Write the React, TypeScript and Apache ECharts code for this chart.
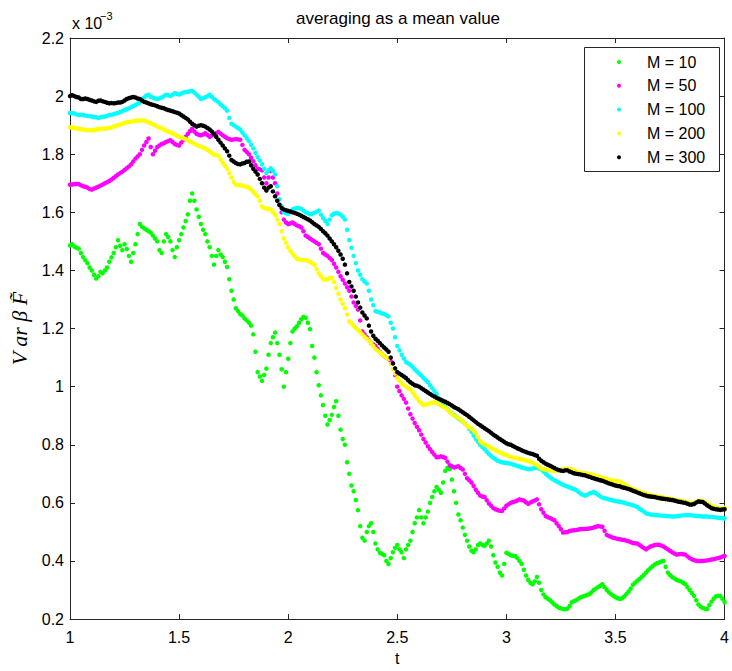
import React, { useEffect, useRef } from "react";
import * as echarts from "echarts";

const seriesNames = ["M = 10", "M = 50", "M = 100", "M = 200", "M = 300"];
const seriesColors = ["#00ff00", "#ff00ff", "#00ffff", "#ffff00", "#000000"];
const T_START = 1;
const T_STEP = 0.01;
const xTicks = { min: 1, max: 4, interval: 0.5 };
const yTicks = { min: 0.2, max: 2.2, interval: 0.2 };

// values in units of 1e-3, sampled at t = 1.00, 1.01, ... 4.00 (20 per row)
const m10 = [
  1.486, 1.49, 1.482, 1.478, 1.475, 1.46, 1.446, 1.435, 1.425, 1.41, 1.40, 1.385, 1.372, 1.38, 1.395, 1.39, 1.40, 1.41, 1.43, 1.445,
  1.46, 1.48, 1.504, 1.485, 1.47, 1.49, 1.474, 1.45, 1.43, 1.46, 1.49, 1.525, 1.56, 1.55, 1.545, 1.54, 1.535, 1.53, 1.52, 1.51,
  1.50, 1.47, 1.46, 1.50, 1.525, 1.515, 1.50, 1.47, 1.446, 1.48, 1.504, 1.525, 1.548, 1.57, 1.593, 1.64, 1.665, 1.64, 1.61, 1.585,
  1.56, 1.54, 1.525, 1.50, 1.48, 1.45, 1.42, 1.45, 1.47, 1.455, 1.446, 1.43, 1.412, 1.37, 1.33, 1.30, 1.27, 1.26, 1.25, 1.245,
  1.235, 1.228, 1.22, 1.21, 1.18, 1.12, 1.05, 1.035, 1.02, 1.04, 1.062, 1.11, 1.15, 1.17, 1.186, 1.15, 1.11, 1.06, 1.0, 1.05,
  1.096, 1.15, 1.19, 1.20, 1.208, 1.22, 1.232, 1.24, 1.237, 1.22, 1.198, 1.14, 1.10, 1.05, 1.005, 0.97, 0.937, 0.90, 0.87, 0.885,
  0.903, 0.93, 0.95, 0.90, 0.852, 0.82, 0.80, 0.74, 0.70, 0.66, 0.64, 0.61, 0.575, 0.52, 0.48, 0.47, 0.50, 0.52, 0.53, 0.50,
  0.46, 0.44, 0.428, 0.425, 0.42, 0.40, 0.39, 0.41, 0.43, 0.445, 0.455, 0.44, 0.43, 0.41, 0.44, 0.455, 0.47, 0.50, 0.53, 0.55,
  0.575, 0.55, 0.53, 0.55, 0.57, 0.60, 0.62, 0.64, 0.655, 0.645, 0.635, 0.67, 0.71, 0.72, 0.716, 0.68, 0.64, 0.60, 0.56, 0.54,
  0.515, 0.49, 0.47, 0.45, 0.435, 0.43, 0.44, 0.455, 0.46, 0.455, 0.452, 0.46, 0.47, 0.45, 0.42, 0.395, 0.38, 0.36, 0.35, 0.39,
  0.428, 0.425, 0.42, 0.418, 0.417, 0.41, 0.40, 0.39, 0.37, 0.35, 0.335, 0.325, 0.32, 0.33, 0.345, 0.325, 0.30, 0.285, 0.275, 0.27,
  0.265, 0.258, 0.25, 0.245, 0.24, 0.237, 0.235, 0.234, 0.236, 0.245, 0.258, 0.262, 0.265, 0.27, 0.275, 0.278, 0.28, 0.283, 0.286, 0.292,
  0.30, 0.305, 0.31, 0.315, 0.32, 0.31, 0.30, 0.292, 0.286, 0.28, 0.275, 0.272, 0.269, 0.272, 0.278, 0.286, 0.295, 0.305, 0.318, 0.325,
  0.332, 0.338, 0.345, 0.352, 0.36, 0.368, 0.375, 0.382, 0.388, 0.392, 0.395, 0.398, 0.40, 0.38, 0.36, 0.352, 0.345, 0.34, 0.335, 0.332,
  0.33, 0.325, 0.32, 0.31, 0.30, 0.29, 0.28, 0.265, 0.25, 0.243, 0.238, 0.236, 0.235, 0.248, 0.26, 0.27, 0.278, 0.28, 0.28, 0.27,
  0.258,
];

const m50 = [
  1.695, 1.696, 1.697, 1.698, 1.697, 1.693, 1.69, 1.688, 1.685, 1.68, 1.678, 1.682, 1.685, 1.688, 1.692, 1.696, 1.70, 1.704, 1.708, 1.713,
  1.718, 1.724, 1.73, 1.735, 1.74, 1.746, 1.752, 1.758, 1.765, 1.775, 1.785, 1.792, 1.80, 1.815, 1.83, 1.842, 1.854, 1.825, 1.80, 1.812,
  1.825, 1.83, 1.835, 1.838, 1.842, 1.845, 1.848, 1.842, 1.835, 1.832, 1.83, 1.84, 1.85, 1.86, 1.87, 1.88, 1.888, 1.878, 1.87, 1.867,
  1.865, 1.868, 1.872, 1.866, 1.86, 1.864, 1.868, 1.872, 1.877, 1.871, 1.865, 1.86, 1.855, 1.852, 1.85, 1.851, 1.852, 1.851, 1.85, 1.832,
  1.815, 1.808, 1.80, 1.788, 1.776, 1.762, 1.75, 1.748, 1.745, 1.72, 1.70, 1.72, 1.742, 1.72, 1.70, 1.665, 1.627, 1.60, 1.575, 1.565,
  1.56, 1.562, 1.565, 1.56, 1.555, 1.552, 1.548, 1.535, 1.52, 1.515, 1.51, 1.505, 1.50, 1.495, 1.49, 1.475, 1.46, 1.455, 1.45, 1.443,
  1.436, 1.423, 1.41, 1.395, 1.38, 1.368, 1.355, 1.342, 1.33, 1.31, 1.29, 1.278, 1.265, 1.228, 1.19, 1.18, 1.17, 1.16, 1.15, 1.145,
  1.14, 1.13, 1.12, 1.112, 1.105, 1.10, 1.095, 1.088, 1.08, 1.04, 1.00, 0.985, 0.97, 0.958, 0.945, 0.925, 0.905, 0.89, 0.875, 0.862,
  0.85, 0.835, 0.82, 0.808, 0.795, 0.785, 0.775, 0.766, 0.757, 0.758, 0.76, 0.758, 0.755, 0.742, 0.73, 0.726, 0.722, 0.724, 0.726, 0.72,
  0.715, 0.70, 0.685, 0.678, 0.67, 0.658, 0.645, 0.635, 0.625, 0.622, 0.62, 0.609, 0.598, 0.59, 0.582, 0.578, 0.575, 0.573, 0.572, 0.581,
  0.59, 0.595, 0.60, 0.603, 0.605, 0.608, 0.612, 0.61, 0.608, 0.602, 0.597, 0.601, 0.605, 0.608, 0.612, 0.595, 0.578, 0.566, 0.555, 0.551,
  0.548, 0.544, 0.54, 0.53, 0.52, 0.509, 0.498, 0.499, 0.50, 0.503, 0.505, 0.506, 0.507, 0.508, 0.51, 0.51, 0.51, 0.511, 0.512, 0.513,
  0.515, 0.518, 0.52, 0.519, 0.518, 0.504, 0.49, 0.486, 0.483, 0.48, 0.478, 0.476, 0.475, 0.473, 0.472, 0.47, 0.468, 0.465, 0.462, 0.461,
  0.46, 0.455, 0.45, 0.445, 0.44, 0.445, 0.45, 0.452, 0.455, 0.456, 0.456, 0.453, 0.45, 0.445, 0.44, 0.435, 0.43, 0.426, 0.422, 0.423,
  0.424, 0.423, 0.422, 0.416, 0.41, 0.406, 0.403, 0.401, 0.40, 0.40, 0.40, 0.401, 0.402, 0.403, 0.405, 0.406, 0.408, 0.41, 0.412, 0.415,
  0.417,
];

const m100 = [
  1.942, 1.941, 1.94, 1.937, 1.935, 1.936, 1.935, 1.933, 1.932, 1.931, 1.93, 1.928, 1.927, 1.925, 1.927, 1.929, 1.93, 1.932, 1.935, 1.936,
  1.938, 1.94, 1.942, 1.945, 1.948, 1.952, 1.955, 1.958, 1.962, 1.966, 1.97, 1.974, 1.978, 1.99, 1.995, 2.002, 2.005, 1.998, 1.995, 1.992,
  1.99, 1.992, 1.995, 2.0, 2.005, 2.003, 2.00, 2.005, 2.01, 2.008, 2.005, 2.009, 2.012, 2.014, 2.015, 2.017, 2.018, 2.012, 2.005, 1.998,
  1.99, 1.993, 1.996, 2.0, 2.005, 1.998, 1.99, 1.985, 1.98, 1.972, 1.965, 1.958, 1.95, 1.925, 1.905, 1.9, 1.895, 1.89, 1.885, 1.875,
  1.865, 1.855, 1.845, 1.832, 1.82, 1.805, 1.79, 1.778, 1.765, 1.75, 1.735, 1.745, 1.752, 1.742, 1.73, 1.69, 1.645, 1.62, 1.60, 1.597,
  1.595, 1.602, 1.61, 1.613, 1.615, 1.614, 1.612, 1.606, 1.60, 1.597, 1.593, 1.595, 1.598, 1.602, 1.606, 1.592, 1.58, 1.57, 1.56, 1.575,
  1.59, 1.595, 1.598, 1.596, 1.592, 1.585, 1.575, 1.54, 1.505, 1.478, 1.45, 1.425, 1.40, 1.385, 1.37, 1.362, 1.355, 1.33, 1.30, 1.28,
  1.26, 1.258, 1.255, 1.252, 1.25, 1.246, 1.242, 1.22, 1.20, 1.17, 1.14, 1.125, 1.11, 1.097, 1.085, 1.08, 1.075, 1.068, 1.06, 1.052,
  1.045, 1.038, 1.03, 1.023, 1.016, 1.005, 0.995, 0.985, 0.975, 0.96, 0.945, 0.937, 0.93, 0.922, 0.915, 0.909, 0.903, 0.897, 0.89, 0.885,
  0.88, 0.872, 0.865, 0.855, 0.845, 0.832, 0.82, 0.81, 0.80, 0.792, 0.785, 0.776, 0.768, 0.761, 0.755, 0.75, 0.745, 0.742, 0.74, 0.738,
  0.737, 0.736, 0.735, 0.732, 0.73, 0.727, 0.725, 0.722, 0.72, 0.718, 0.716, 0.717, 0.718, 0.72, 0.722, 0.718, 0.715, 0.708, 0.70, 0.694,
  0.688, 0.683, 0.678, 0.674, 0.67, 0.666, 0.662, 0.659, 0.656, 0.653, 0.65, 0.647, 0.644, 0.638, 0.632, 0.628, 0.625, 0.628, 0.632, 0.635,
  0.638, 0.633, 0.628, 0.623, 0.618, 0.616, 0.614, 0.612, 0.61, 0.608, 0.606, 0.605, 0.604, 0.602, 0.60, 0.598, 0.596, 0.594, 0.592, 0.589,
  0.586, 0.58, 0.575, 0.57, 0.564, 0.562, 0.56, 0.559, 0.558, 0.558, 0.557, 0.556, 0.556, 0.555, 0.555, 0.554, 0.553, 0.553, 0.554, 0.555,
  0.556, 0.557, 0.558, 0.558, 0.558, 0.557, 0.556, 0.555, 0.555, 0.554, 0.553, 0.553, 0.553, 0.552, 0.552, 0.551, 0.55, 0.549, 0.548, 0.547,
  0.546,
];

const m200 = [
  1.893, 1.892, 1.89, 1.889, 1.888, 1.886, 1.885, 1.884, 1.883, 1.882, 1.882, 1.883, 1.885, 1.887, 1.888, 1.888, 1.888, 1.889, 1.89, 1.892,
  1.895, 1.898, 1.90, 1.902, 1.905, 1.908, 1.91, 1.911, 1.912, 1.914, 1.915, 1.916, 1.916, 1.916, 1.915, 1.913, 1.91, 1.907, 1.903, 1.899,
  1.895, 1.892, 1.89, 1.885, 1.88, 1.878, 1.875, 1.872, 1.868, 1.864, 1.86, 1.858, 1.855, 1.852, 1.848, 1.844, 1.84, 1.836, 1.832, 1.829,
  1.826, 1.823, 1.82, 1.815, 1.81, 1.804, 1.798, 1.797, 1.795, 1.782, 1.77, 1.76, 1.75, 1.735, 1.72, 1.705, 1.695, 1.694, 1.693, 1.692,
  1.69, 1.688, 1.685, 1.678, 1.67, 1.662, 1.655, 1.64, 1.62, 1.615, 1.612, 1.611, 1.61, 1.60, 1.59, 1.575, 1.56, 1.535, 1.51, 1.495,
  1.48, 1.468, 1.457, 1.448, 1.44, 1.438, 1.436, 1.436, 1.436, 1.433, 1.43, 1.425, 1.42, 1.405, 1.39, 1.38, 1.37, 1.368, 1.37, 1.373,
  1.375, 1.36, 1.34, 1.32, 1.30, 1.285, 1.27, 1.248, 1.225, 1.218, 1.21, 1.202, 1.195, 1.188, 1.18, 1.172, 1.165, 1.158, 1.15, 1.14,
  1.13, 1.124, 1.118, 1.112, 1.105, 1.10, 1.096, 1.078, 1.06, 1.045, 1.03, 1.02, 1.01, 1.005, 1.00, 0.995, 0.99, 0.98, 0.97, 0.96,
  0.95, 0.943, 0.937, 0.938, 0.94, 0.943, 0.945, 0.945, 0.945, 0.94, 0.935, 0.931, 0.927, 0.921, 0.915, 0.907, 0.90, 0.897, 0.893, 0.887,
  0.88, 0.872, 0.865, 0.86, 0.855, 0.848, 0.84, 0.826, 0.812, 0.806, 0.80, 0.798, 0.795, 0.79, 0.785, 0.782, 0.778, 0.774, 0.77, 0.767,
  0.765, 0.761, 0.758, 0.756, 0.755, 0.753, 0.752, 0.75, 0.748, 0.746, 0.744, 0.741, 0.738, 0.734, 0.73, 0.724, 0.718, 0.716, 0.714, 0.713,
  0.712, 0.711, 0.71, 0.711, 0.712, 0.714, 0.716, 0.717, 0.718, 0.717, 0.716, 0.712, 0.708, 0.705, 0.703, 0.703, 0.703, 0.701, 0.70, 0.698,
  0.696, 0.693, 0.69, 0.688, 0.686, 0.684, 0.682, 0.68, 0.677, 0.676, 0.676, 0.675, 0.673, 0.669, 0.665, 0.66, 0.655, 0.651, 0.648, 0.645,
  0.642, 0.639, 0.636, 0.633, 0.631, 0.629, 0.627, 0.625, 0.624, 0.622, 0.621, 0.62, 0.618, 0.616, 0.615, 0.614, 0.613, 0.611, 0.61, 0.608,
  0.607, 0.605, 0.604, 0.602, 0.60, 0.60, 0.60, 0.603, 0.607, 0.607, 0.606, 0.602, 0.598, 0.594, 0.59, 0.587, 0.584, 0.582, 0.58, 0.581,
  0.583,
];

const m300 = [
  2.00, 2.003, 2.00, 1.997, 1.995, 1.99, 1.99, 1.992, 1.99, 1.987, 1.985, 1.982, 1.98, 1.984, 1.985, 1.982, 1.98, 1.977, 1.975, 1.976,
  1.975, 1.976, 1.978, 1.978, 1.98, 1.985, 1.99, 1.993, 1.995, 1.997, 1.995, 1.992, 1.99, 1.985, 1.98, 1.978, 1.975, 1.972, 1.97, 1.968,
  1.965, 1.962, 1.96, 1.958, 1.955, 1.952, 1.95, 1.948, 1.945, 1.943, 1.94, 1.935, 1.93, 1.925, 1.92, 1.912, 1.905, 1.90, 1.895, 1.898,
  1.90, 1.898, 1.895, 1.89, 1.885, 1.878, 1.87, 1.86, 1.85, 1.84, 1.83, 1.82, 1.81, 1.795, 1.78, 1.775, 1.77, 1.766, 1.765, 1.768,
  1.77, 1.774, 1.775, 1.762, 1.75, 1.74, 1.73, 1.715, 1.70, 1.685, 1.675, 1.685, 1.69, 1.672, 1.655, 1.64, 1.625, 1.615, 1.61, 1.607,
  1.605, 1.603, 1.60, 1.598, 1.595, 1.592, 1.588, 1.584, 1.58, 1.576, 1.572, 1.566, 1.56, 1.555, 1.55, 1.543, 1.535, 1.528, 1.52, 1.51,
  1.50, 1.49, 1.48, 1.468, 1.455, 1.44, 1.42, 1.39, 1.36, 1.345, 1.33, 1.31, 1.29, 1.272, 1.255, 1.245, 1.235, 1.21, 1.19, 1.175,
  1.165, 1.158, 1.15, 1.142, 1.135, 1.128, 1.12, 1.10, 1.08, 1.063, 1.05, 1.045, 1.04, 1.035, 1.03, 1.022, 1.015, 1.01, 1.005, 1.003,
  1.0, 0.995, 0.99, 0.985, 0.98, 0.975, 0.97, 0.966, 0.962, 0.958, 0.955, 0.951, 0.948, 0.944, 0.94, 0.935, 0.93, 0.926, 0.922, 0.917,
  0.912, 0.907, 0.902, 0.896, 0.89, 0.884, 0.878, 0.872, 0.867, 0.862, 0.857, 0.852, 0.847, 0.841, 0.835, 0.83, 0.825, 0.82, 0.815, 0.81,
  0.805, 0.802, 0.80, 0.796, 0.792, 0.788, 0.785, 0.781, 0.778, 0.775, 0.772, 0.77, 0.768, 0.765, 0.762, 0.752, 0.745, 0.74, 0.735, 0.731,
  0.728, 0.724, 0.72, 0.716, 0.713, 0.711, 0.71, 0.712, 0.712, 0.708, 0.705, 0.702, 0.70, 0.699, 0.698, 0.696, 0.695, 0.692, 0.69, 0.687,
  0.685, 0.682, 0.68, 0.678, 0.676, 0.673, 0.67, 0.667, 0.665, 0.662, 0.66, 0.658, 0.657, 0.654, 0.652, 0.65, 0.648, 0.645, 0.642, 0.639,
  0.636, 0.633, 0.63, 0.627, 0.625, 0.623, 0.622, 0.621, 0.62, 0.618, 0.617, 0.615, 0.614, 0.613, 0.612, 0.611, 0.61, 0.608, 0.606, 0.604,
  0.603, 0.601, 0.60, 0.597, 0.594, 0.594, 0.596, 0.601, 0.605, 0.604, 0.603, 0.598, 0.592, 0.587, 0.582, 0.58, 0.578, 0.577, 0.576, 0.577,
  0.578,
];

const seriesValues = [m10, m50, m100, m200, m300];

const FONT = "'Liberation Sans', Arial, Helvetica, sans-serif";
const AXIS_COLOR = "#262626";

export default function App() {
  const ref = useRef<HTMLDivElement>(null);

  useEffect(() => {
    if (!ref.current) return;
    const chart = echarts.init(ref.current, null, { renderer: "svg" });
    const toPoints = (vals: number[]) =>
      vals.map((v, i) => [Math.round((T_START + i * T_STEP) * 100) / 100, v]);

    const axisLine = { show: true, onZero: false, lineStyle: { color: AXIS_COLOR, width: 1 } };
    const tick = { show: true, inside: true, length: 5, lineStyle: { color: AXIS_COLOR, width: 1 } };
    const labelFmt = (v: number) => String(Math.round(v * 10) / 10);

    chart.setOption({
      animation: false,
      backgroundColor: "#ffffff",
      grid: { left: 70, right: 6, top: 38, bottom: 44, containLabel: false },
      xAxis: [
        {
          type: "value",
          position: "bottom",
          ...xTicks,
          axisLine,
          axisTick: tick,
          splitLine: { show: false },
          axisLabel: { fontSize: 16, color: "#000", fontFamily: FONT, margin: 10, formatter: labelFmt },
          name: "t",
          nameLocation: "middle",
          nameGap: 28,
          nameTextStyle: { fontSize: 16, color: "#000", fontFamily: FONT },
        },
        {
          type: "value",
          position: "top",
          ...xTicks,
          axisLine,
          axisTick: tick,
          splitLine: { show: false },
          axisLabel: { show: false },
        },
      ],
      yAxis: [
        {
          type: "value",
          position: "left",
          ...yTicks,
          axisLine,
          axisTick: tick,
          splitLine: { show: false },
          axisLabel: { fontSize: 16, color: "#000", fontFamily: FONT, margin: 6, formatter: labelFmt },
          name: "V ar β F\u0303",
          nameLocation: "middle",
          nameRotate: 90,
          nameGap: 36,
          nameTextStyle: {
            fontSize: 22,
            fontStyle: "italic",
            color: "#000",
            fontFamily: "'Liberation Serif', 'DejaVu Serif', serif",
          },
        },
        {
          type: "value",
          position: "right",
          ...yTicks,
          axisLine,
          axisTick: tick,
          splitLine: { show: false },
          axisLabel: { show: false },
        },
      ],
      legend: {
        orient: "vertical",
        left: 617,
        top: 54,
        padding: 0,
        itemWidth: 8,
        itemHeight: 4,
        itemGap: 7.8,
        icon: "circle",
        z: 20,
        data: seriesNames,
        textStyle: { fontSize: 16, lineHeight: 16, color: "#000", fontFamily: FONT, padding: [0, 0, 0, 19] },
      },
      graphic: [
        {
          type: "rect",
          z: 10,
          shape: { x: 584.5, y: 47.5, width: 135, height: 124 },
          style: { fill: "#ffffff", stroke: AXIS_COLOR, lineWidth: 1 },
        },
        {
          type: "text",
          z: 10,
          x: 398,
          y: 18.5,
          style: {
            text: "averaging as a mean value",
            fontSize: 17,
            fontFamily: FONT,
            fill: "#000",
            textAlign: "center",
            textVerticalAlign: "middle",
          },
        },
        {
          type: "text",
          z: 10,
          x: 72,
          y: 23.5,
          style: {
            text: "x 10",
            fontSize: 16,
            fontFamily: FONT,
            fill: "#000",
            textAlign: "left",
            textVerticalAlign: "middle",
          },
        },
        {
          type: "text",
          z: 10,
          x: 100,
          y: 15.5,
          style: {
            text: "\u22123",
            fontSize: 11,
            fontFamily: FONT,
            fill: "#000",
            textAlign: "left",
            textVerticalAlign: "middle",
          },
        },
      ],
      series: seriesNames.map((name, k) => ({
        name,
        type: "scatter",
        xAxisIndex: 0,
        yAxisIndex: 0,
        symbol: "circle",
        symbolSize: 4.5,
        itemStyle: { color: seriesColors[k], opacity: 1 },
        emphasis: { disabled: true },
        data: toPoints(seriesValues[k]),
      })),
    });

    return () => chart.dispose();
  }, []);

  return (
    <div
      ref={ref}
      style={{ position: "fixed", left: 0, top: 0, width: 732, height: 671 }}
    />
  );
}
